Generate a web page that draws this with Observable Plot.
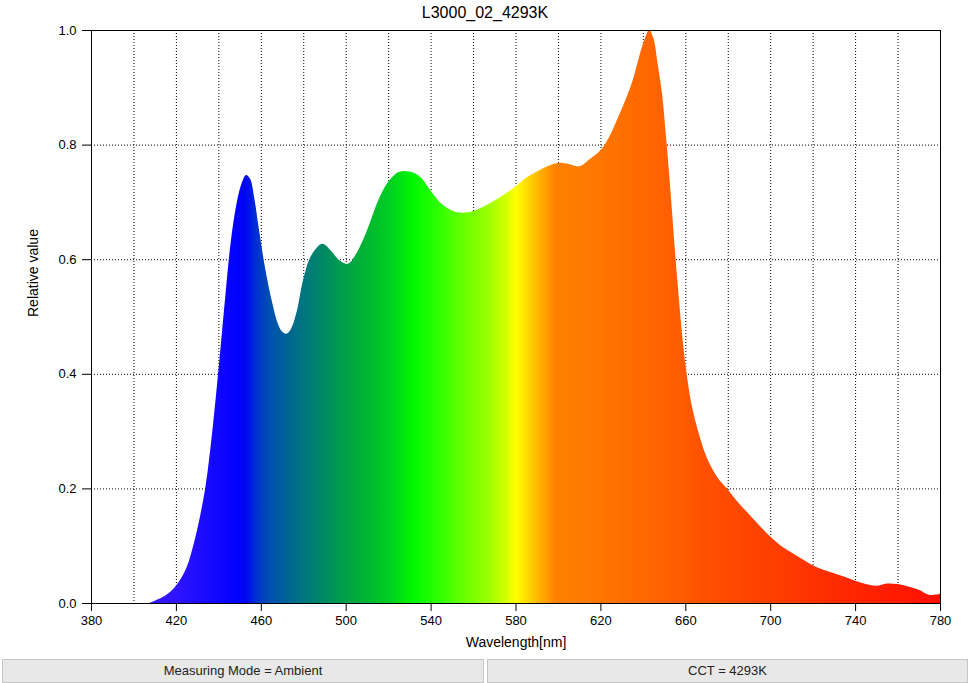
<!DOCTYPE html>
<html>
<head>
<meta charset="utf-8">
<script src="https://cdn.jsdelivr.net/npm/d3@7"></script>
<script src="https://cdn.jsdelivr.net/npm/@observablehq/plot@0.6"></script>
<style>
  html, body { margin: 0; padding: 0; background: #fff; }
  #wrap { position: relative; width: 970px; height: 683px; font-family: "Liberation Sans", Arial, sans-serif; }
  #title { position: absolute; left: 0; top: 4px; width: 970px; text-align: center; font-size: 16px; color: #000; z-index: 2; }
  #chart { position: absolute; left: 0; top: 0; }
  .box { position: absolute; top: 659px; height: 22px; line-height: 22px; background: #e8e8e8; border: 1px solid #c6c6c6; box-sizing: content-box; text-align: center; font-size: 13px; color: #222; }
</style>
</head>
<body>
<div id="wrap">
  <div id="chart"></div>
  <div id="title"></div>
  <div class="box" id="box1" style="left:2px; width:480px;"></div>
  <div class="box" id="box2" style="left:487px; width:479px;"></div>
</div>
<script>
const titleText = "L3000_02_4293K";
const xLabel = "Wavelength[nm]";
const yLabel = "Relative value";
const footerLeft = "Measuring Mode = Ambient";
const footerRight = "CCT = 4293K";

const wavelengths = [380, 400, 407, 410, 415, 420, 425, 428, 431, 434, 437, 440, 443, 446, 449, 451, 453, 455, 457, 459, 462, 465, 468, 470, 472, 474, 477, 480, 484, 489, 493, 497, 501, 505, 510, 515, 520, 525, 530, 535, 540, 545, 550, 555, 560, 565, 570, 575, 580, 585, 590, 595, 600, 605, 610, 615, 620, 625, 628, 632, 635, 638, 640, 643, 645, 647, 649, 651, 653, 655, 657, 659, 661, 663, 666, 670, 675, 680, 685, 690, 695, 700, 705, 710, 715, 720, 725, 730, 735, 740, 745, 750, 755, 760, 765, 770, 775, 780];
const values = [0, 0, 0, 0.004, 0.013, 0.03, 0.062, 0.098, 0.145, 0.205, 0.295, 0.405, 0.525, 0.635, 0.705, 0.733, 0.747, 0.74, 0.705, 0.655, 0.585, 0.53, 0.488, 0.474, 0.47, 0.477, 0.51, 0.565, 0.608, 0.627, 0.615, 0.598, 0.592, 0.61, 0.65, 0.70, 0.735, 0.752, 0.753, 0.744, 0.72, 0.697, 0.685, 0.681, 0.684, 0.692, 0.702, 0.714, 0.727, 0.742, 0.753, 0.762, 0.768, 0.766, 0.762, 0.775, 0.79, 0.82, 0.845, 0.88, 0.91, 0.95, 0.975, 1.0, 0.985, 0.94, 0.89, 0.81, 0.72, 0.62, 0.53, 0.45, 0.39, 0.345, 0.3, 0.255, 0.22, 0.198, 0.175, 0.155, 0.135, 0.116, 0.1, 0.088, 0.077, 0.066, 0.058, 0.052, 0.046, 0.039, 0.033, 0.03, 0.034, 0.033, 0.029, 0.023, 0.014, 0.016];

const xTicks = [380, 420, 460, 500, 540, 580, 620, 660, 700, 740, 780];
const yTicks = [0, 0.2, 0.4, 0.6, 0.8, 1.0];
const gridX = [400, 420, 440, 460, 480, 500, 520, 540, 560, 580, 600, 620, 640, 660, 680, 700, 720, 740, 760];
const gridY = [0.2, 0.4, 0.6, 0.8];

const stopNm = [380, 420, 449, 453, 458, 464, 474, 485, 497, 511, 521, 532, 544, 554, 568, 575, 580, 587, 594, 599, 620, 643, 662, 667, 705, 742, 780];
const stopColor = ["#4422ff", "#3014ff", "#0000ff", "#0008f0", "#0030d0", "#0050b0", "#006890", "#008070", "#009a50", "#00b830", "#00d020", "#00f800", "#30ff00", "#60ff00", "#a0ff00", "#d0ff00", "#ffff00", "#ffd000", "#ffa000", "#ff8000", "#ff7600", "#ff6600", "#ff5800", "#ff5200", "#ff3c00", "#ff2400", "#ff1000"];

const data = wavelengths.map((w, i) => ({w, v: values[i]}));
const dotted = {stroke: "black", strokeWidth: 1, strokeDasharray: "1,2", strokeOpacity: 1};

document.getElementById("title").textContent = titleText;
document.getElementById("box1").textContent = footerLeft;
document.getElementById("box2").textContent = footerRight;

const plot = Plot.plot({
  width: 970,
  height: 655,
  marginTop: 30,
  marginRight: 30,
  marginBottom: 52,
  marginLeft: 91,
  style: {fontFamily: "'Liberation Sans', Arial, sans-serif", fontSize: "13px", color: "black", background: "transparent", overflow: "visible"},
  x: {domain: [380, 780]},
  y: {domain: [0, 1]},
  marks: [
    Plot.ruleX(gridX, dotted),
    Plot.ruleY(gridY, dotted),
    Plot.areaY(data, {x: "w", y: "v", fill: "url(#spec)", curve: "catmull-rom"}),
    Plot.frame({stroke: "black", strokeOpacity: 1}),
    Plot.axisX({ticks: xTicks, tickSize: 8, tickPadding: 4, label: null, strokeOpacity: 1}),
    Plot.axisY({ticks: yTicks, tickFormat: d3.format(".1f"), tickSize: 9, tickPadding: 6, label: null, strokeOpacity: 1}),
    Plot.text([xLabel], {frameAnchor: "bottom", dy: 43, fontSize: 14, fill: "black"}),
    Plot.text([yLabel], {frameAnchor: "left", rotate: -90, dx: -58, fontSize: 14, fill: "black"})
  ]
});

const sx = plot.scale("x");
const svg = d3.select(plot.tagName.toLowerCase() === "svg" ? plot : plot.querySelector("svg"));
const grad = svg.insert("defs", ":first-child").append("linearGradient")
  .attr("id", "spec")
  .attr("gradientUnits", "userSpaceOnUse")
  .attr("x1", sx.apply(380)).attr("x2", sx.apply(780))
  .attr("y1", 0).attr("y2", 0);
stopNm.forEach((nm, i) => {
  grad.append("stop").attr("offset", (nm - 380) / 400).attr("stop-color", stopColor[i]);
});

document.getElementById("chart").appendChild(plot);
</script>
</body>
</html>
